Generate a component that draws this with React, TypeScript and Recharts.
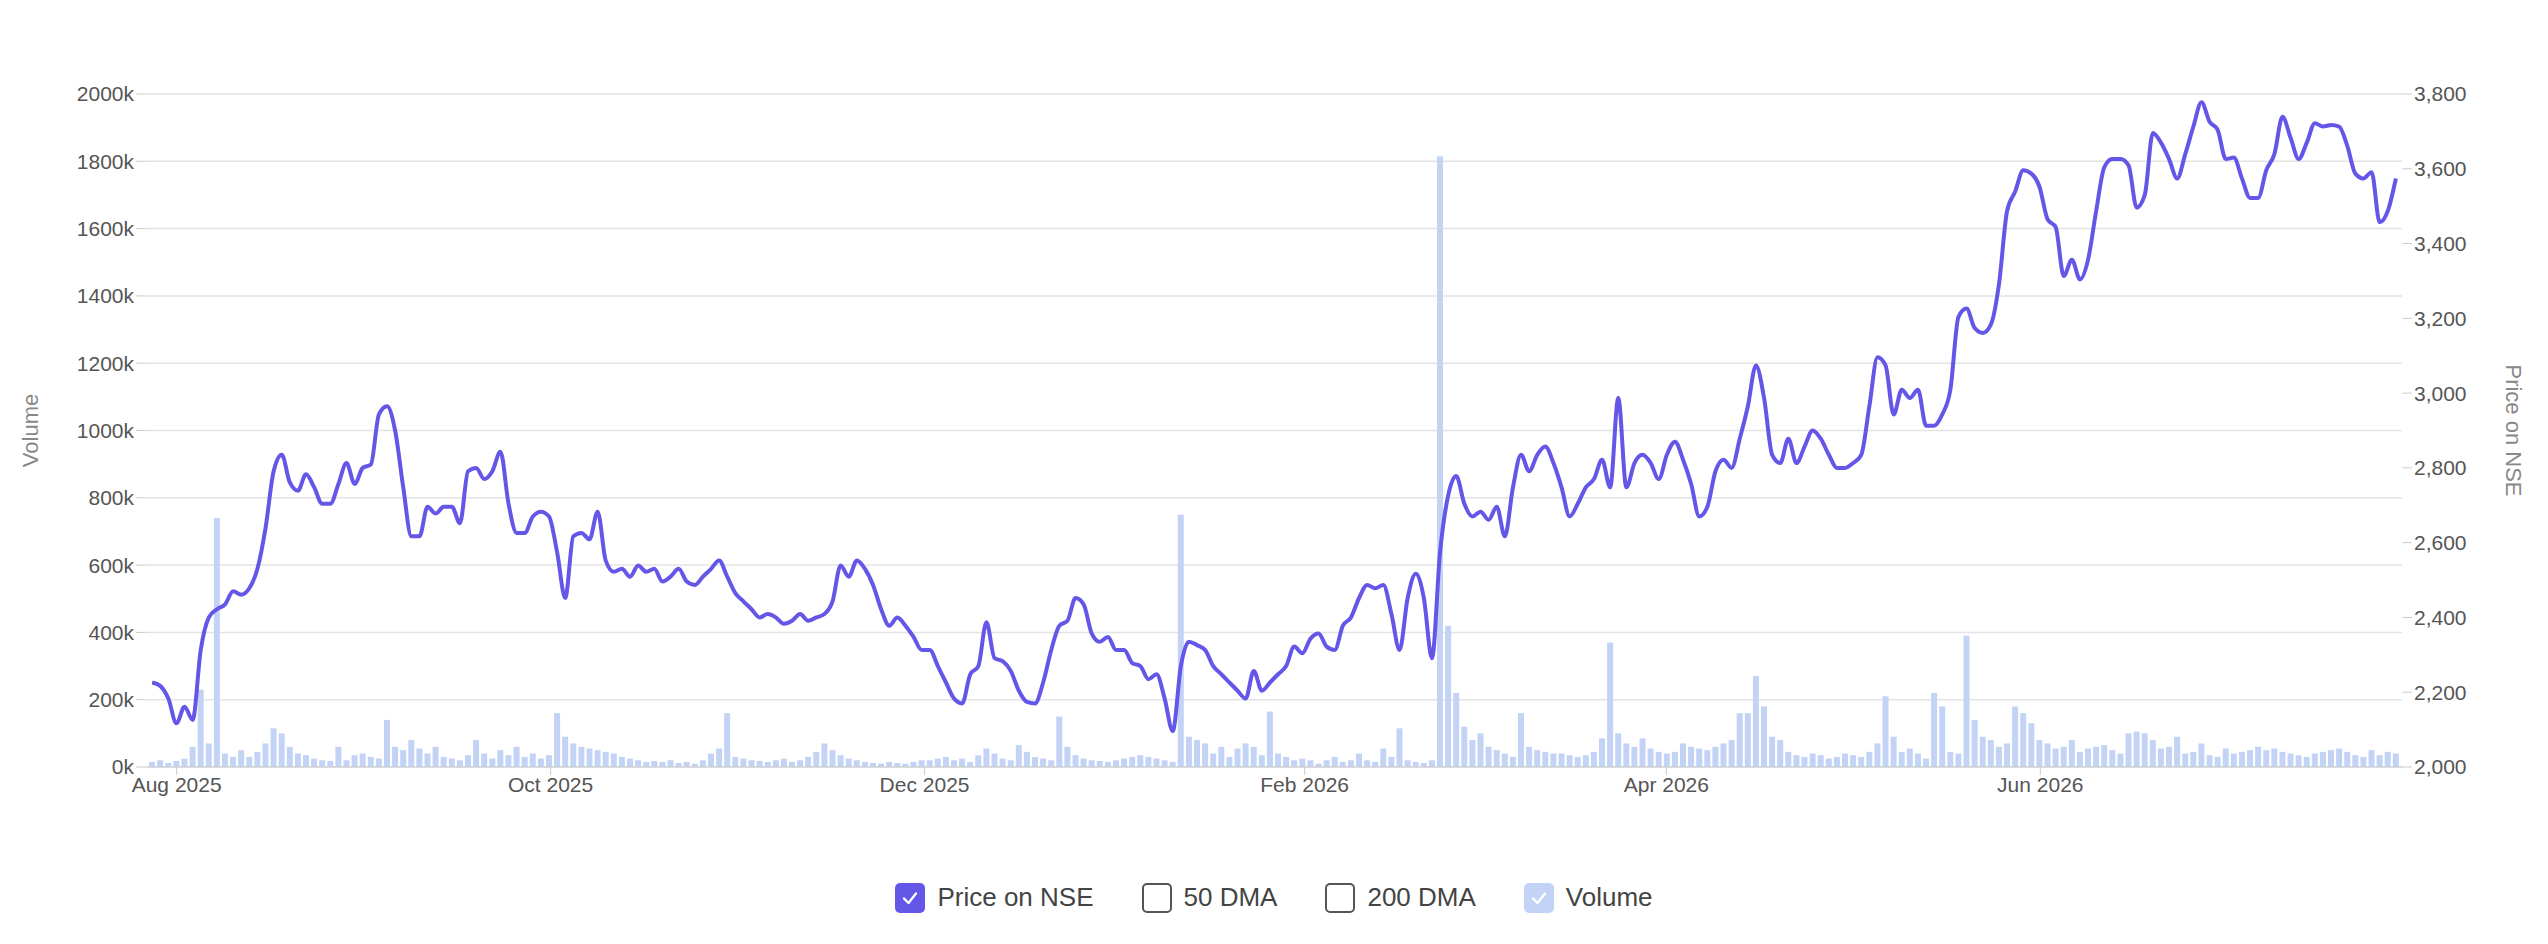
import React from "react";
import { ComposedChart, Bar, Line, XAxis, YAxis, CartesianGrid } from "recharts";

const startDate = "2025-07-28";
const endDate = "2026-07-29";
const xTickDates = ["2025-08-01", "2025-10-01", "2025-12-01", "2026-02-01", "2026-04-01", "2026-06-01"];
const volTicks = [0, 200, 400, 600, 800, 1000, 1200, 1400, 1600, 1800, 2000];
const priceTicks = [2000, 2200, 2400, 2600, 2800, 3000, 3200, 3400, 3600, 3800];
const monthNames = ["Jan", "Feb", "Mar", "Apr", "May", "Jun", "Jul", "Aug", "Sep", "Oct", "Nov", "Dec"];

const price = [
  2226,2217,2183,2117,2161,2126,2313,2400,2422,2435,
  2470,2461,2478,2530,2639,2791,2835,2761,2739,2783,
  2748,2704,2704,2757,2813,2757,2800,2809,2943,2965,
  2900,2748,2617,2617,2696,2678,2696,2696,2652,2791,
  2800,2770,2791,2843,2704,2626,2626,2670,2683,2670,
  2574,2452,2617,2626,2609,2683,2552,2522,2530,2509,
  2539,2522,2530,2496,2509,2530,2496,2487,2509,
  2530,2552,2509,2465,2443,2422,2400,2409,2400,2383,2391,
  2409,2391,2400,2409,2443,2539,2509,2552,2530,2487,2422,
  2378,2400,2378,2348,2313,2313,2270,2226,2183,2170,
  2248,2270,2387,2291,2283,2257,2204,2174,2170,2226,
  2313,2378,2391,2452,2435,2357,2335,2348,2313,2313,
  2278,2270,2235,2248,2183,2096,2270,2335,2326,2313,
  2270,2248,2226,2204,2183,2257,2204,2226,2248,2270,
  2322,2304,2343,2357,2322,2313,2378,2400,2452,2487,
  2478,2487,2409,2313,2452,2517,2452,2291,2574,
  2726,2778,2704,2670,2683,2661,2696,2617,2748,
  2835,2791,2835,2857,2813,2748,2670,2704,2748,2770,
  2822,2748,2987,2748,2813,2835,2813,2770,2835,
  2870,2822,2757,2670,2696,2791,2822,2800,2878,2965,
  3074,2987,2835,2813,2878,2813,2857,2900,2878,
  2835,2800,2800,2813,2835,2965,3096,3074,2943,3009,
  2987,3009,2913,2913,2943,3009,3204,3226,3174,3161,
  3183,3291,3487,3539,3596,3587,3552,3465,3444,3313,
  3357,3304,3357,3487,3604,3626,3626,3609,3496,3530,
  3696,3670,3626,3574,3639,3713,3778,3726,3704,3626,
  3630,3574,3522,3522,3596,3639,3739,3683,3626,3670,
  3722,3713,3717,3713,3661,3587,3574,3591,3457,3487,
  3574,
];

const volumeK = [
  15,20,12,18,25,60,230,70,740,40,
  30,50,30,45,70,115,100,60,40,35,25,
  20,18,60,20,35,40,30,25,140,60,
  50,80,55,40,60,30,25,20,35,80,
  40,25,50,35,60,30,40,25,35,160,
  90,70,60,55,50,45,40,30,25,20,
  15,18,15,20,12,15,10,20,40,55,160,
  30,25,20,18,15,20,25,15,20,30,
  45,70,50,35,25,20,15,12,10,15,
  12,10,15,20,20,25,30,20,25,15,35,
  55,40,25,20,65,45,30,25,20,150,
  60,35,25,20,18,15,20,25,30,35,
  30,25,20,15,750,90,80,70,40,60,
  30,55,70,60,35,165,40,30,20,25,
  20,10,20,30,15,20,40,20,15,55,30,
  115,20,15,12,20,1815,420,220,120,80,
  100,60,50,40,30,160,60,50,45,40,
  40,35,30,35,45,85,370,100,70,60,85,
  55,45,40,45,70,60,55,50,60,70,
  80,160,160,270,180,90,80,45,35,30,
  40,35,25,30,40,35,30,45,70,210,
  90,45,55,40,25,220,180,45,40,390,140,
  90,80,60,70,180,160,130,80,70,55,
  60,80,45,55,60,65,50,40,100,105,
  100,80,55,60,90,40,45,70,35,30,
  55,40,45,50,60,50,55,45,40,35,
  30,40,45,50,55,45,35,30,50,35,
  45,40,
];

const t0 = Date.parse(startDate);
const t1 = Date.parse(endDate);
const n = price.length;
const data = price.map((p, i) => ({
  t: t0 + (i * (t1 - t0)) / (n - 1),
  price: p,
  volume: volumeK[i],
}));
const xTicks = xTickDates.map((d) => Date.parse(d));

const font = "'Liberation Sans', Arial, sans-serif";
const tickStyle = { fontSize: 21, fill: "#555", fontFamily: font };

function Box({ checked, color }: { checked: boolean; color: string }) {
  return (
    <span
      style={{
        width: 30, height: 30, borderRadius: 5, boxSizing: "border-box",
        border: checked ? "none" : "2px solid #555", background: checked ? color : "#fff",
        display: "inline-flex", alignItems: "center", justifyContent: "center", marginRight: 12,
      }}
    >
      {checked && (
        <svg width="20" height="20" viewBox="0 0 20 20">
          <path d="M4 10.5 L8.5 15 L16 5.5" stroke="#fff" strokeWidth="2.4" fill="none" strokeLinecap="round" strokeLinejoin="round" />
        </svg>
      )}
    </span>
  );
}

export default function App() {
  const items = [
    { label: "Price on NSE", checked: true, color: "#6457e8" },
    { label: "50 DMA", checked: false, color: "#fff" },
    { label: "200 DMA", checked: false, color: "#fff" },
    { label: "Volume", checked: true, color: "#c3d3f6" },
  ];
  return (
    <div style={{ width: 2532, fontFamily: font }}>
      <ComposedChart width={2532} height={830} data={data} margin={{ top: 86, right: 0, bottom: 21, left: 0 }}>
        <CartesianGrid yAxisId="vol" vertical={false} stroke="#e3e3e3" strokeWidth={1.5} />
        <XAxis
          dataKey="t" type="number" scale="time" domain={[t0 - 86400000, t1 + 86400000]}
          ticks={xTicks} height={50}
          tickFormatter={(v: number) => { const d = new Date(v); return monthNames[d.getUTCMonth()] + " " + d.getUTCFullYear(); }}
          tick={tickStyle} axisLine={{ stroke: "#ccc" }} tickLine={{ stroke: "#ccc" }} tickSize={8}
        />
        <YAxis
          yAxisId="vol" orientation="left" width={138} domain={[0, 2000]} ticks={volTicks}
          tickFormatter={(v: number) => v + "k"} tick={tickStyle} axisLine={false}
          tickLine={{ stroke: "#ccc" }} tickSize={10}
          label={{ value: "Volume", angle: -90, position: "insideLeft", offset: 22, style: { fontSize: 22, fill: "#888", fontFamily: font, textAnchor: "middle" } }}
        />
        <YAxis
          yAxisId="price" orientation="right" width={138} domain={[2000, 3800]} ticks={priceTicks}
          tickFormatter={(v: number) => v.toLocaleString("en-US")} tick={tickStyle} axisLine={false}
          tickLine={{ stroke: "#ccc" }} tickSize={10}
          label={{ value: "Price on NSE", angle: 90, position: "insideRight", offset: 26, style: { fontSize: 22, fill: "#888", fontFamily: font, textAnchor: "middle" } }}
        />
        <Bar yAxisId="vol" dataKey="volume" fill="#c3d3f6" barSize={6} isAnimationActive={false} />
        <Line yAxisId="price" dataKey="price" type="monotone" stroke="#6457e8" strokeWidth={4} dot={false} isAnimationActive={false} />
      </ComposedChart>
      <div style={{ display: "flex", justifyContent: "center", alignItems: "center", marginTop: 44, gap: 48, fontSize: 26, color: "#444" }}>
        {items.map((it) => (
          <span key={it.label} style={{ display: "inline-flex", alignItems: "center" }}>
            <Box checked={it.checked} color={it.color} />
            {it.label}
          </span>
        ))}
      </div>
    </div>
  );
}
